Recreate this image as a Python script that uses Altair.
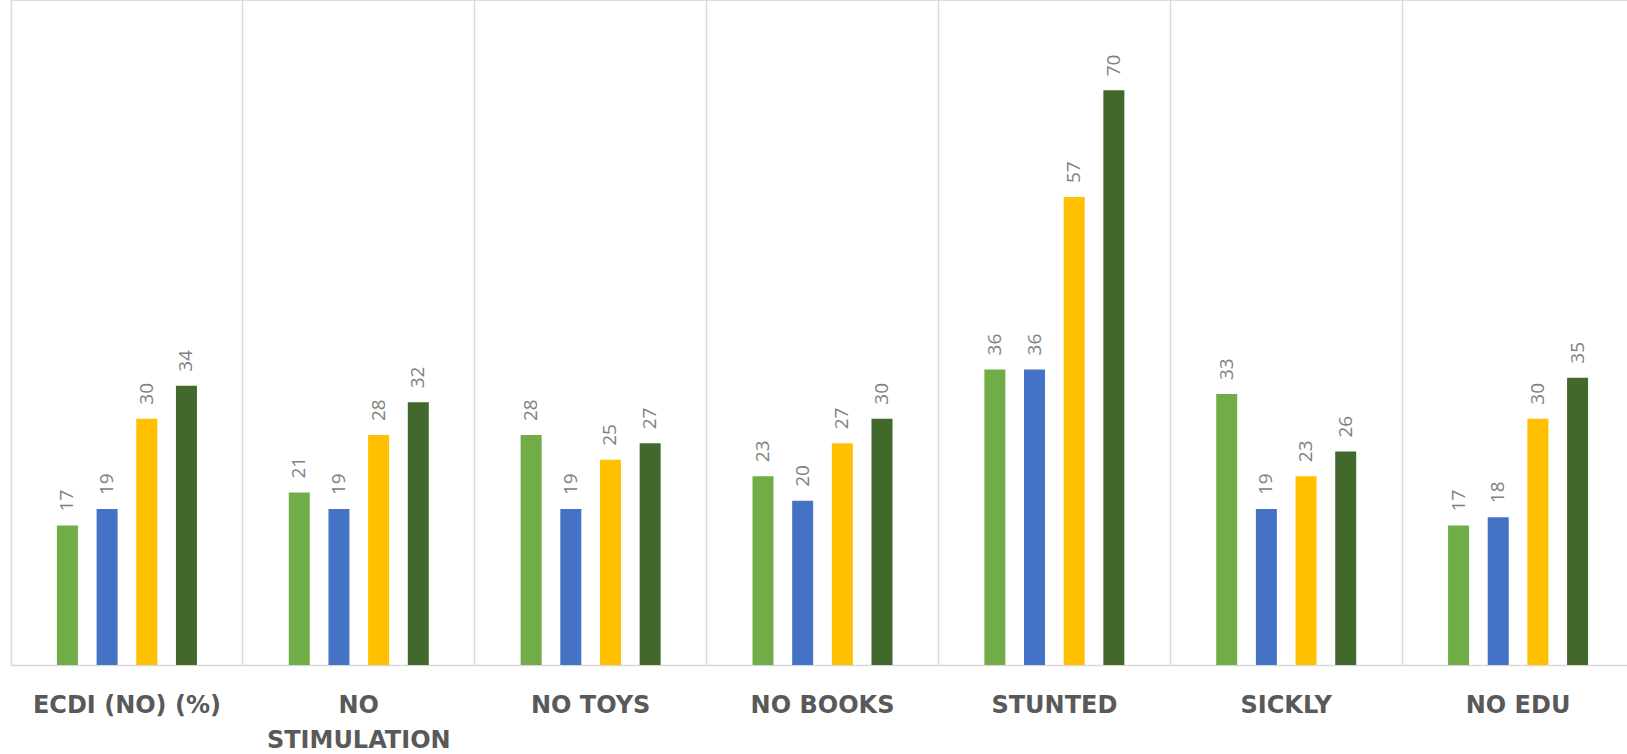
import altair as alt
import pandas as pd

categories = ["ECDI (NO) (%)", "NO STIMULATION", "NO TOYS", "NO BOOKS", "STUNTED", "SICKLY", "NO EDU"]
series = ["Series 1", "Series 2", "Series 3", "Series 4"]
s1 = [17, 21, 28, 23, 36, 33, 17]
s2 = [19, 19, 19, 20, 36, 19, 18]
s3 = [30, 28, 25, 27, 57, 23, 30]
s4 = [34, 32, 27, 30, 70, 26, 35]
colors = ["#70ad47", "#4472c4", "#ffc000", "#43682b"]

rows = []
for name, vals in zip(series, [s1, s2, s3, s4]):
    for c, v in zip(categories, vals):
        rows.append({"category": c, "series": name, "value": v})
df = pd.DataFrame(rows)

x = alt.X("category:N", sort=categories, title=None,
          scale=alt.Scale(paddingInner=0, paddingOuter=0),
          axis=alt.Axis(labelAngle=0, labelFont="DejaVu Sans", labelFontWeight="bold",
                        labelFontSize=24, labelColor="#595959", labelPadding=28,
                        labelLineHeight=35, labelBaseline="top", labelLimit=400,
                        labelExpr="datum.label == 'NO STIMULATION' ? ['NO', 'STIMULATION'] : datum.label",
                        ticks=False, domainColor="#d9d9d9", domainWidth=1.5,
                        grid=True, gridColor="#d9d9d9", gridWidth=1.5, bandPosition=0))
xo = alt.XOffset("series:N", sort=series,
                 scale=alt.Scale(paddingInner=0.155, paddingOuter=1))
y = alt.Y("value:Q", scale=alt.Scale(domain=[0, 81], nice=False), axis=None)

base = alt.Chart(df).encode(x=x, xOffset=xo, y=y)

bars = base.mark_bar(size=21).encode(
    color=alt.Color("series:N", sort=series,
                    scale=alt.Scale(domain=series, range=colors), legend=None)
)
labels = base.mark_text(angle=270, align="left", baseline="middle", dx=14,
                        font="Open Sans", fontSize=19, color="#808080").encode(
    text=alt.Text("value:Q")
)

chart = (bars + labels).properties(
    width=1623, height=665,
    autosize=alt.AutoSizeParams(type="none"),
    padding={"left": 11, "top": 0, "right": -7, "bottom": 89},
).configure_view(stroke=None).configure(background="white")

chart.save("out.html", embed_options={"renderer": "svg", "actions": False})
